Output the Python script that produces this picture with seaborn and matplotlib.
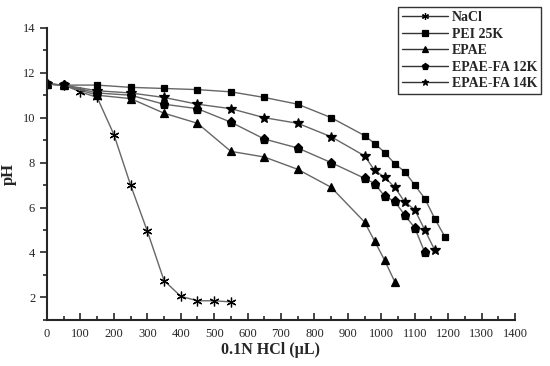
import matplotlib
matplotlib.use("Agg")
from matplotlib import pyplot as plt
from matplotlib.ticker import MultipleLocator
import seaborn as sns

# datos
nacl_x = [0, 50, 100, 150, 200, 250, 300, 350, 400, 450, 500, 550]
nacl_y = [11.5, 11.45, 11.15, 10.9, 9.25, 7.0, 4.95, 2.75, 2.05, 1.85, 1.85, 1.8]

pei_x = [0, 50, 150, 250, 350, 450, 550, 650, 750, 850, 950, 980, 1010, 1040, 1070, 1100, 1130, 1160, 1190]
pei_y = [11.5, 11.45, 11.45, 11.35, 11.3, 11.25, 11.15, 10.9, 10.6, 10.0, 9.2, 8.85, 8.45, 7.95, 7.6, 7.0, 6.4, 5.5, 4.7]

epae_x = [0, 50, 150, 250, 350, 450, 550, 650, 750, 850, 950, 980, 1010, 1040]
epae_y = [11.5, 11.45, 11.0, 10.85, 10.2, 9.75, 8.5, 8.25, 7.7, 6.9, 5.35, 4.5, 3.65, 2.7]

fa12_x = [0, 50, 150, 250, 350, 450, 550, 650, 750, 850, 950, 980, 1010, 1040, 1070, 1100, 1130]
fa12_y = [11.5, 11.45, 11.1, 11.0, 10.6, 10.4, 9.8, 9.05, 8.65, 8.0, 7.3, 7.07, 6.5, 6.28, 5.66, 5.1, 4.0]

fa14_x = [0, 50, 150, 250, 350, 450, 550, 650, 750, 850, 950, 980, 1010, 1040, 1070, 1100, 1130, 1160]
fa14_y = [11.5, 11.45, 11.2, 11.1, 10.9, 10.6, 10.4, 10.0, 9.75, 9.15, 8.3, 7.65, 7.35, 6.9, 6.25, 5.9, 5.0, 4.1]

series_labels = ["NaCl", "PEI 25K", "EPAE", "EPAE-FA 12K", "EPAE-FA 14K"]


def main():
    sns.set_style("ticks")
    plt.rcParams["font.family"] = ["Liberation Serif", "DejaVu Serif"]

    fig = plt.figure(figsize=(5.5, 3.66), dpi=100)
    ax = fig.add_axes([0.0855, 0.126, 0.851, 0.798])

    series = [
        (nacl_x, nacl_y, (6, 2, 0), 7),
        (pei_x, pei_y, "s", 5),
        (epae_x, epae_y, "^", 6),
        (fa12_x, fa12_y, "p", 6.5),
        (fa14_x, fa14_y, "*", 7.5),
    ]
    for (xs, ys, mk, ms), lab in zip(series, series_labels):
        sns.lineplot(x=xs, y=ys, ax=ax, color="#666666", linewidth=1.0,
                     marker=mk, markersize=ms, markerfacecolor="black",
                     markeredgecolor="black", markeredgewidth=0.9,
                     label=lab, sort=False)

    ax.set_xlim(0, 1400)
    ax.set_ylim(1, 14)
    ax.xaxis.set_major_locator(MultipleLocator(100))
    ax.xaxis.set_minor_locator(MultipleLocator(50))
    ax.yaxis.set_major_locator(MultipleLocator(2))
    ax.yaxis.set_minor_locator(MultipleLocator(1))
    ax.tick_params(axis="x", which="major", direction="in", length=5, width=1.2, labelsize=9, pad=6)
    ax.tick_params(axis="x", which="minor", direction="in", length=3, width=1.2)
    ax.tick_params(axis="y", which="major", direction="out", length=5, width=1.2, labelsize=9)
    ax.tick_params(axis="y", which="minor", direction="out", length=3, width=1.2)

    sns.despine(ax=ax)
    ax.spines["left"].set_linewidth(1.5)
    ax.spines["bottom"].set_linewidth(1.5)

    ax.set_xlabel("0.1N HCl (\u00b5L)", fontsize=11.5, fontweight="bold", labelpad=4)
    ax.xaxis.set_label_coords(0.477, -0.075)
    ax.set_ylabel("pH", fontsize=12, fontweight="bold", labelpad=4)

    leg = ax.legend(loc="upper right", bbox_to_anchor=(0.997, 1.0), bbox_transform=fig.transFigure,
                    frameon=True, fancybox=False, edgecolor="black", handlelength=3.3,
                    handletextpad=0.3, labelspacing=0.25, borderpad=0.3,
                    prop={"family": "Liberation Serif", "weight": "bold", "size": 10})
    leg.get_frame().set_linewidth(1.0)
    for line in leg.get_lines():
        line.set_color("#333333")
        line.set_markersize(5)

    plt.savefig("out.png", dpi=100)


if __name__ == "__main__":
    main()
